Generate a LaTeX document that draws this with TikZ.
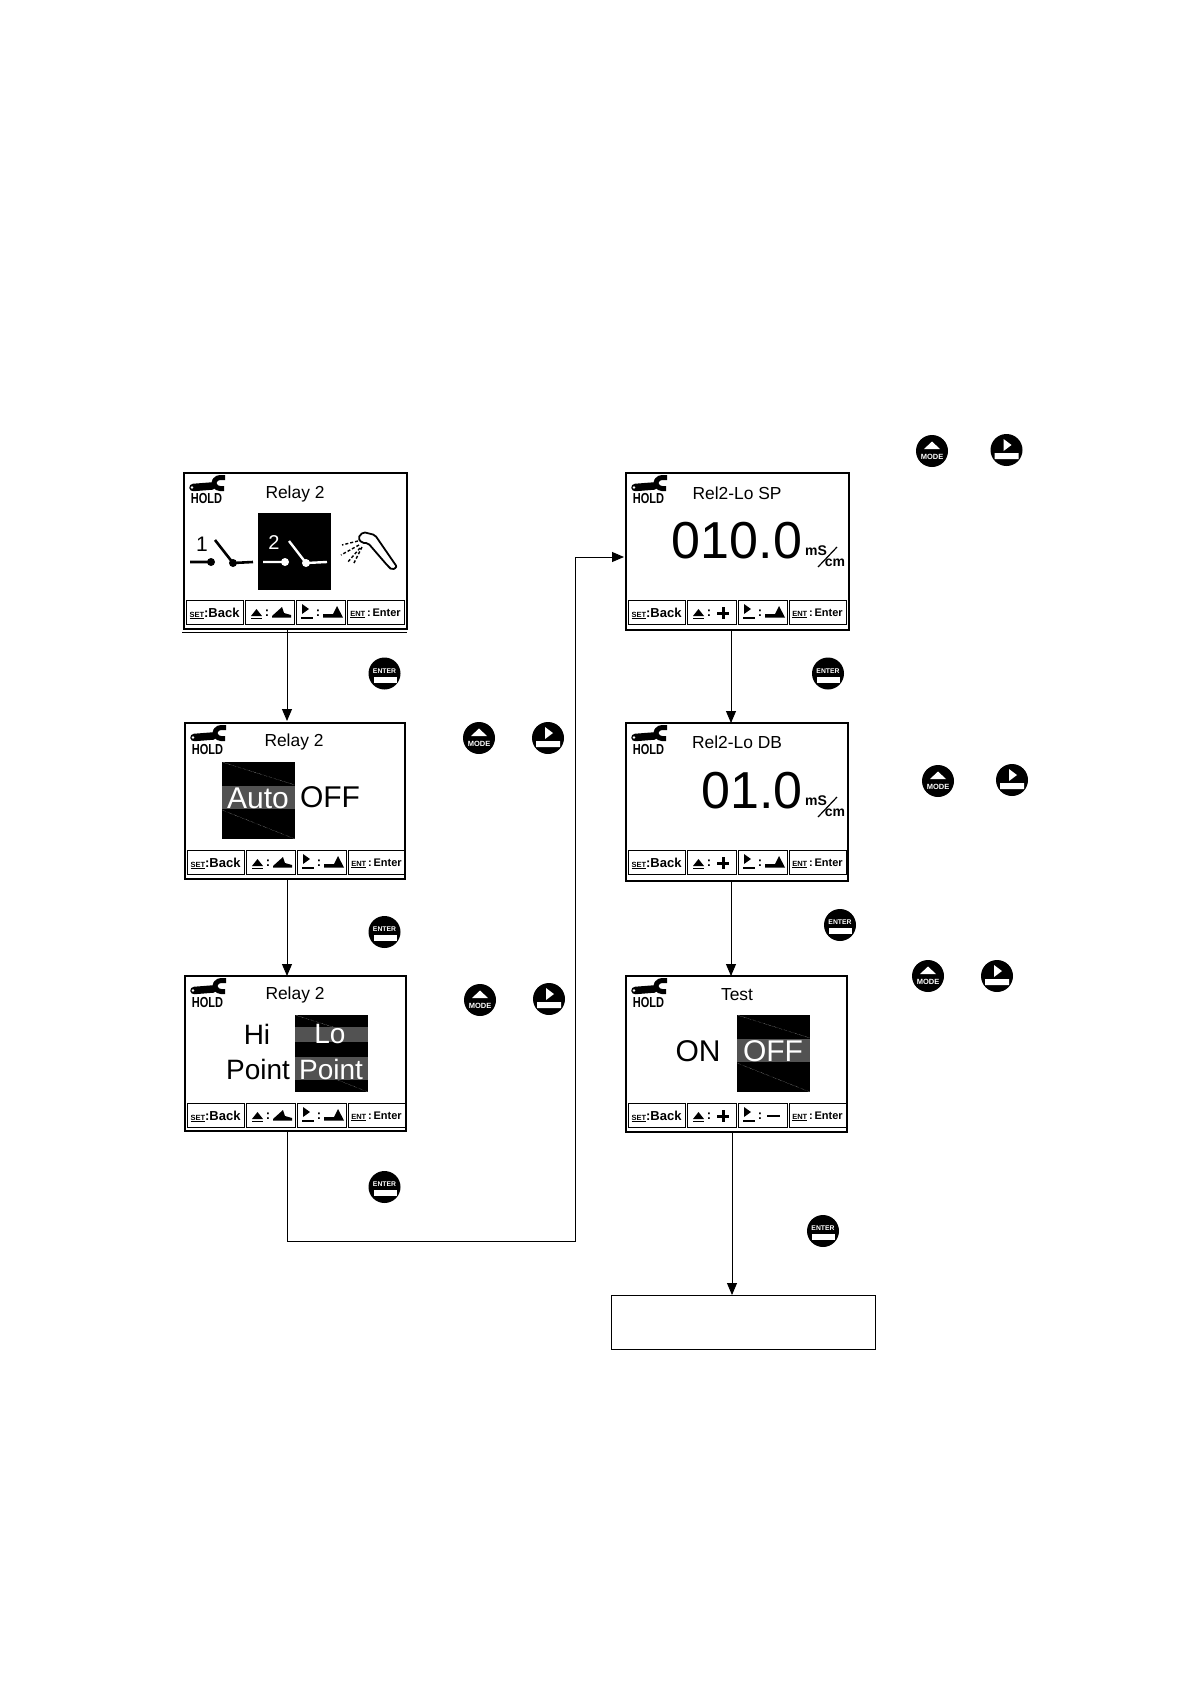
\documentclass[tikz,border=0pt]{standalone}
\usepackage{graphicx}
\usepackage{fontspec}
\setmainfont{Liberation Sans}
\usetikzlibrary{arrows.meta}

\newcommand{\fs}[1]{\fontsize{#1}{#1}\selectfont}
\tikzset{
  screen/.style={draw,line width=1.6pt,anchor=north west,inner sep=0pt,outer sep=0pt},
  cell/.style={draw,line width=0.8pt,anchor=north west,inner sep=0pt,outer sep=0pt,minimum height=24pt},
  celltext/.style={inner sep=0pt,font=\fs{13}\bfseries},
  title/.style={inner sep=0pt,font=\fs{17.4}},
  bigtext/.style={inner sep=0pt,font=\fs{30}},
  value/.style={inner sep=0pt,font=\fs{52}},
  unit/.style={inner sep=0pt,font=\fs{14}\bfseries},
  inverse/.style={fill=black,anchor=north west,inner sep=0pt,outer sep=0pt,minimum width=73pt,minimum height=77pt},
  keydot/.style={circle,fill=black,inner sep=0pt,outer sep=0pt,minimum size=32pt},
  flow/.style={line width=0.9pt,-{Triangle[length=12pt,width=10pt]}},
}

% wrench and HOLD, top left of a screen
\newcommand{\holdmark}[1]{
  \draw[line width=7.5pt,line cap=round] (9,14.5) -- (28,13);
  \draw[line width=5pt,rounded corners=3pt] (41,4.5) -- (33,4.5) -- (29,10) -- (33,15.5) -- (40,15.5);
  \fill[white] (8,14.5) circle (1.3);
  \node[inner sep=0pt,font=\fs{14.5}\bfseries] (#1-hold) at (22.5,26) {\scalebox{0.76}[1]{HOLD}};
}
% the four soft keys: #2 and #3 are the second and third icons
\newcommand{\softkeys}[3]{
  \node[cell,minimum width=57pt] (#1-set) at (2,127) {};
  \node[cell,minimum width=49pt] (#1-up) at (61,127) {};
  \node[cell,minimum width=49pt] (#1-right) at (112,127) {};
  \node[cell,minimum width=57pt] (#1-ent) at (163,127) {};
  \node[celltext] (#1-back) at ([yshift=-1.5pt]#1-set) {{\fs{7.5}\underline{SET}}:Back};
  \node[celltext,font=\fs{11}\bfseries] (#1-enter) at ([yshift=-1.5pt]#1-ent) {{\fs{7.5}\underline{ENT}}\,:\,Enter};
  \fill (67,143) -- (78,143) -- (72.5,136) -- cycle;
  \draw[line width=1.3pt] (67,145.5) -- (78,145.5);
  \node[celltext] (#1-c2) at (83,140) {:};
  \fill (118,131) -- (118,141) -- (125,136) -- cycle;
  \draw[line width=1.3pt] (117,145) -- (129,145);
  \node[celltext] (#1-c3) at (134,140) {:};
  \begin{scope}[shift={(61,127)}]#2\end{scope}
  \begin{scope}[shift={(112,127)}]#3\end{scope}
}
\newcommand{\rampup}{\fill (27,16) -- (37,7) -- (39,13) -- (46,15) -- (46,17.5) -- (27,17.5) -- cycle;}
\newcommand{\rampdown}{\fill (27,14) -- (37,14) -- (41,6) -- (47,17.5) -- (27,17.5) -- cycle;}
\newcommand{\plusicon}{\draw[line width=3pt] (30,13) -- (42,13) (36,7) -- (36,19);}
\newcommand{\minusicon}{\draw[line width=2.6pt] (29,13) -- (42,13);}
% black field with its scan marks, #2 #3 is its corner
\newcommand{\inversefield}[3]{
  \node[inverse] (#1) at (#2,#3) {};
  \draw[white,densely dotted,line width=0.3pt,shift={(#2,#3)}] (0,0) -- (73,23) (0,48) -- (73,77);
}
\newcommand{\scanband}[3]{
  \fill[black!68] ([yshift=-#2pt]#1.north west) rectangle ([yshift=-#3pt]#1.north east);
}
\newcommand{\mscm}[1]{
  \node[unit] (#1-ms) at (190,78) {mS};
  \draw[line width=1.2pt] (192,94) -- (211,74);
  \node[unit] (#1-cm) at (209,89.5) {cm};
}
\newcommand{\modekey}[3]{
  \node[keydot] (#1) at (#2,#3) {};
  \fill[white,shift={(#2,#3)}] (-8,-2) -- (8,-2) -- (0,-9.5) -- cycle;
  \node[white,inner sep=0pt,font=\fs{7.5}\bfseries] (#1-mode) at ([yshift=-6pt]#1.center) {MODE};
}
\newcommand{\rightkey}[3]{
  \node[keydot] (#1) at (#2,#3) {};
  \fill[white,shift={(#2,#3)}] (-3,-11) -- (-3,1) -- (5,-5) -- cycle (-12,3) rectangle (12,9);
}
\newcommand{\enterkey}[3]{
  \node[keydot] (#1) at (#2,#3) {};
  \fill[white,shift={(#2,#3)}] (-11,3) rectangle (12,9);
  \node[white,inner sep=0pt,font=\fs{6.8}\bfseries] (#1-enter) at ([yshift=2.5pt]#1.center) {ENTER};
}

\begin{document}
\begin{tikzpicture}[x=1pt,y=-1pt]
\useasboundingbox[fill=white] (0,0) rectangle (1190,1684);

% screens down the left
\node[screen,minimum width=223pt,minimum height=156pt] (relay) at (184,473) {};
\begin{scope}[shift={(184,473)}]
  \holdmark{relay}
  \softkeys{relay}{\rampup}{\rampdown}
  \node[title] (relay-title) at (111,20.5) {Relay 2};
  \node[inverse] (relay-field) at (74,40) {};
  \node[inner sep=0pt,font=\fs{21}\rmfamily] (relay-one) at (18,71) {1};
  \draw[line width=2.6pt] (6,89) -- (27,89) (31,67) -- (49,90) -- (69,89);
  \fill (27,89) circle (4) (49,90) circle (4);
  \node[white,inner sep=0pt,font=\fs{20}\rmfamily] (relay-two) at (90,70) {2};
  \draw[white,line width=2.4pt] (79,89) -- (100,89) (105,68) -- (122,90) -- (143,89);
  \fill[white] (101,89) circle (4) (122,90) circle (4);
  \draw[line width=1.8pt,rounded corners=2pt] (174,65) -- (179,59) -- (191,62) -- (213,94) -- (208,97) -- (203,92) -- (184,70) -- (178,70) -- cycle;
  \draw[line width=1.4pt,dash pattern=on 3pt off 2pt] (174,68) -- (158,72) (175,72) -- (157,82) (176,75) -- (163,90) (178,74) -- (170,90);
  \draw[line width=0.8pt] (-2,159) -- (223,159);
\end{scope}

\node[screen,minimum width=220pt,minimum height=156pt] (mode) at (185,723) {};
\begin{scope}[shift={(185,723)}]
  \holdmark{mode}
  \softkeys{mode}{\rampup}{\rampdown}
  \node[title] (mode-title) at (109,19) {Relay 2};
  \inversefield{mode-field}{37}{39}
  \scanband{mode-field}{24}{47}
  \node[white,bigtext] (mode-auto) at (73,75) {Auto};
  \node[bigtext] (mode-off) at (145,74) {OFF};
\end{scope}

\node[screen,minimum width=221pt,minimum height=155pt] (point) at (185,976) {};
\begin{scope}[shift={(185,976)}]
  \holdmark{point}
  \softkeys{point}{\rampup}{\rampdown}
  \node[title] (point-title) at (110,19) {Relay 2};
  \inversefield{point-field}{110}{39}
  \scanband{point-field}{12}{27}
  \scanband{point-field}{42}{65}
  \node[bigtext,font=\fs{28}] (point-hi) at (72,58) {Hi};
  \node[bigtext,font=\fs{28}] (point-hipoint) at (73,93) {Point};
  \node[white,bigtext,font=\fs{28}] (point-lo) at (145,58) {Lo};
  \node[white,bigtext,font=\fs{28}] (point-lopoint) at (146,93) {Point};
\end{scope}

% screens down the right
\node[screen,minimum width=223pt,minimum height=157pt] (setpoint) at (626,473) {};
\begin{scope}[shift={(626,473)}]
  \holdmark{setpoint}
  \softkeys{setpoint}{\plusicon}{\rampdown}
  \node[title] (setpoint-title) at (111,20) {Rel2-Lo SP};
  \node[value] (setpoint-value) at (111,68) {010.0};
  \mscm{setpoint}
\end{scope}

\node[screen,minimum width=222pt,minimum height=158pt] (deadband) at (626,723) {};
\begin{scope}[shift={(626,723)}]
  \holdmark{deadband}
  \softkeys{deadband}{\plusicon}{\rampdown}
  \node[title] (deadband-title) at (111,19.5) {Rel2-Lo DB};
  \node[value] (deadband-value) at (126,67.5) {01.0};
  \mscm{deadband}
\end{scope}

\node[screen,minimum width=221pt,minimum height=156pt] (test) at (626,976) {};
\begin{scope}[shift={(626,976)}]
  \holdmark{test}
  \softkeys{test}{\plusicon}{\minusicon}
  \node[title] (test-title) at (111,18.5) {Test};
  \inversefield{test-field}{111}{39}
  \scanband{test-field}{24}{47}
  \node[bigtext] (test-on) at (72,75) {ON};
  \node[white,bigtext] (test-off) at (147,75) {OFF};
\end{scope}

\node[draw,line width=0.6pt,anchor=north west,outer sep=0pt,minimum width=264pt,minimum height=54pt] (done) at (611,1295) {};

% keys
\enterkey{enter1}{384.5}{673.5}
\modekey{modekey1}{479}{738}
\rightkey{rightkey1}{548}{738}
\enterkey{enter2}{384.5}{932}
\modekey{modekey2}{480}{1000}
\rightkey{rightkey2}{549}{999}
\enterkey{enter3}{384.5}{1187}
\modekey{modekey3}{932}{451}
\rightkey{rightkey3}{1006.5}{450}
\enterkey{enter4}{828}{673.5}
\modekey{modekey4}{938}{781}
\rightkey{rightkey4}{1012}{780}
\enterkey{enter5}{840}{925}
\modekey{modekey5}{928}{976}
\rightkey{rightkey5}{997}{976}
\enterkey{enter6}{823}{1231}

% connectors
\coordinate (turn) at (575.5,1241);
\draw[flow] ([xshift=-8.5pt]relay.south) -- ([xshift=-8pt,yshift=2pt]mode.north);
\draw[flow] ([xshift=-8pt]mode.south) -- ([xshift=-8.5pt]point.north);
\draw[flow] ([xshift=-8.5pt]point.south) |- (turn) |- ([xshift=-2pt,yshift=-5.5pt]setpoint.west);
\draw[flow] ([xshift=-6.5pt]setpoint.south) -- ([xshift=-6pt]deadband.north);
\draw[flow] ([xshift=-6pt]deadband.south) -- ([xshift=-5.5pt]test.north);
\draw[flow] ([xshift=-4.5pt]test.south) -- ([xshift=-11pt]done.north);
\end{tikzpicture}
\end{document}
